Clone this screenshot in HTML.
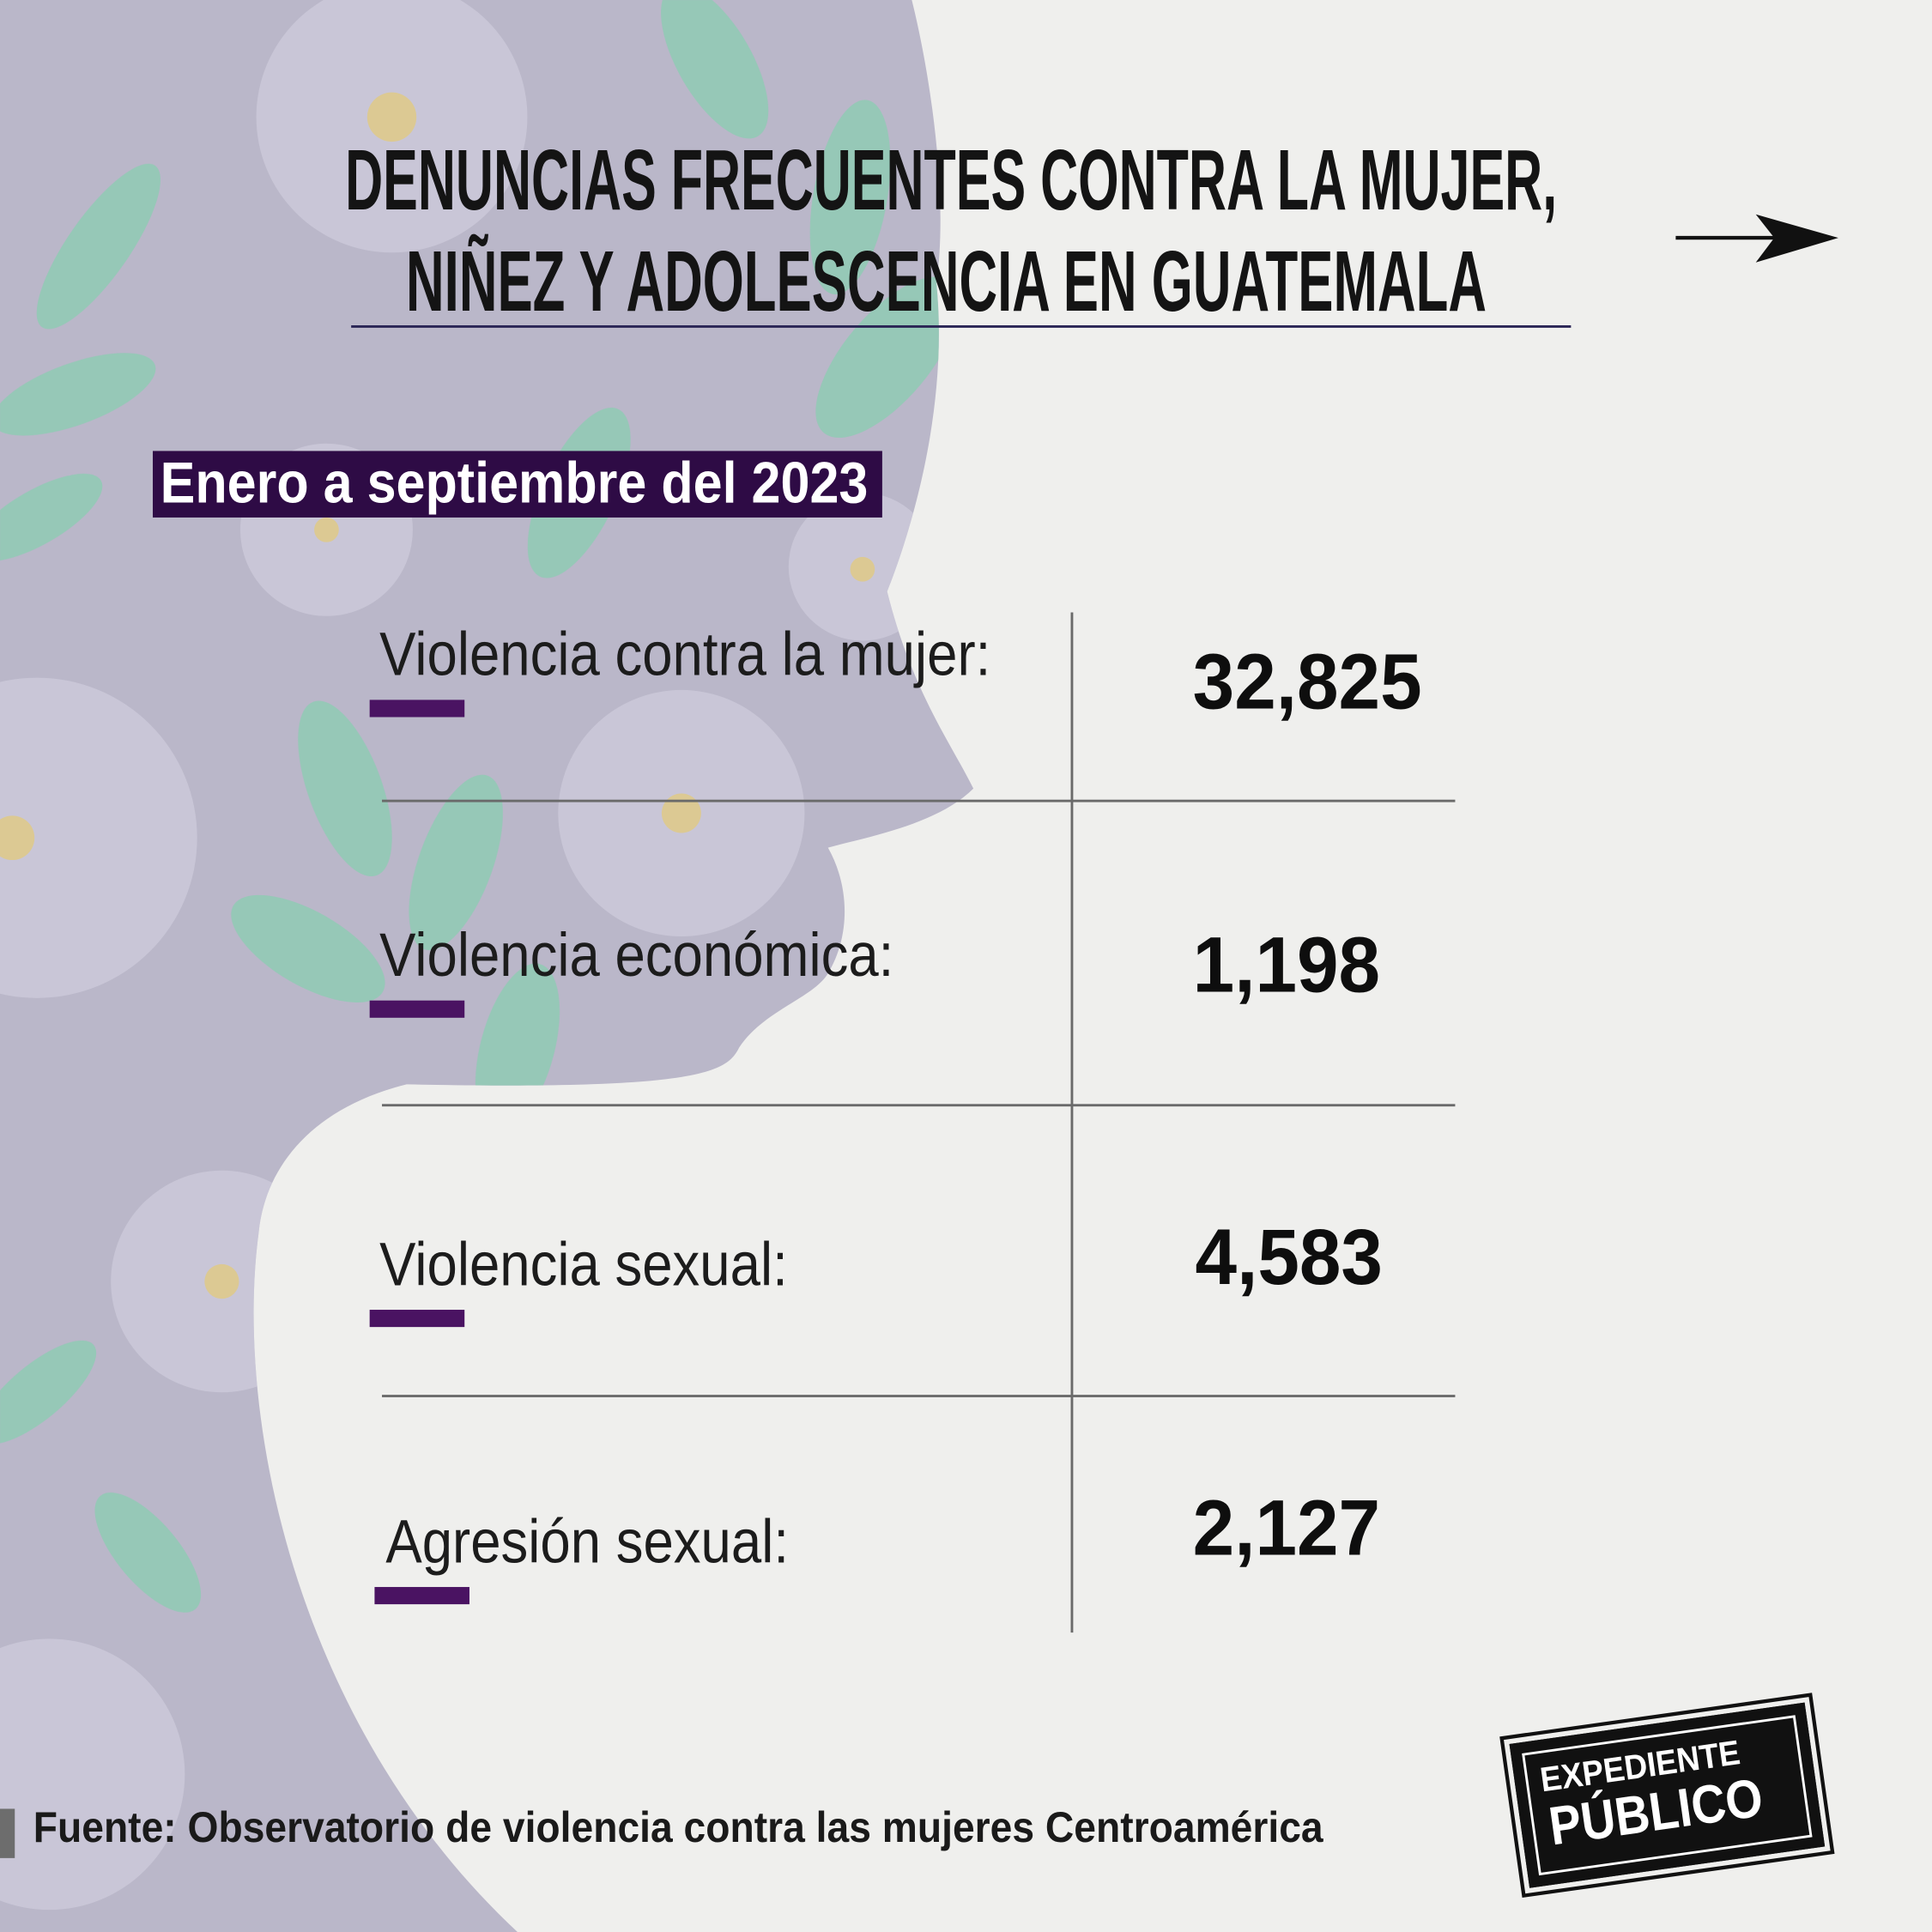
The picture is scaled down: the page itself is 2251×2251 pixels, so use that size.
<!DOCTYPE html>
<html><head><meta charset="utf-8"><style>
html,body{margin:0;padding:0;width:2251px;height:2250px;overflow:hidden;background:#efefed}
#w{position:absolute;left:0;top:0;width:1568px;height:1568px;transform:scale(1.43559);transform-origin:0 0;font-family:"Liberation Sans",sans-serif}
.t{position:absolute;white-space:nowrap;transform-origin:0 0}
.title{font-family:"Liberation Sans Narrow","Liberation Sans",sans-serif;font-weight:bold;font-size:70px;color:#141414;left:-20px;width:1568px;text-align:center;transform-origin:784px 0}
.lab{font-family:"Liberation Sans Narrow","Liberation Sans",sans-serif;font-size:50px;color:#1c1c1c;font-weight:normal;transform:scaleX(0.885)}
.bar{position:absolute;width:77px;height:14px;background:#4a1362}
.num{font-family:"Liberation Sans Narrow","Liberation Sans",sans-serif;font-weight:bold;font-size:64px;color:#0e0e0e;transform:scaleX(0.95)}
.hl{position:absolute;left:310px;width:871px;height:2px;background:#6a6a6a}
</style></head><body><div id="w">
<svg width="1568" height="1568" style="position:absolute;left:0;top:0">
<defs><clipPath id="c"><path d="M0 0 L740 0 C755 60 770 160 760 230 C770 330 740 430 720 480 C740 560 770 600 790 640 C760 670 700 680 672 688 C690 720 690 760 672 790 C660 810 620 820 600 850 C590 870 570 885 330 880 C250 900 215 950 210 1000 C190 1150 240 1400 420 1568 L0 1568 Z"/></clipPath></defs>
<path d="M0 0 L740 0 C755 60 770 160 760 230 C770 330 740 430 720 480 C740 560 770 600 790 640 C760 670 700 680 672 688 C690 720 690 760 672 790 C660 810 620 820 600 850 C590 870 570 885 330 880 C250 900 215 950 210 1000 C190 1150 240 1400 420 1568 L0 1568 Z" fill="#bab7c9"/>
<g clip-path="url(#c)">
<g fill="#8fcbb4" opacity="0.85">
<ellipse cx="580" cy="50" rx="30" ry="70" transform="rotate(-30 580 50)"/>
<ellipse cx="690" cy="160" rx="30" ry="80" transform="rotate(10 690 160)"/>
<ellipse cx="720" cy="290" rx="35" ry="80" transform="rotate(40 720 290)"/>
<ellipse cx="470" cy="400" rx="30" ry="75" transform="rotate(25 470 400)"/>
<ellipse cx="80" cy="200" rx="25" ry="80" transform="rotate(35 80 200)"/>
<ellipse cx="60" cy="320" rx="25" ry="70" transform="rotate(70 60 320)"/>
<ellipse cx="30" cy="420" rx="22" ry="60" transform="rotate(60 30 420)"/>
<ellipse cx="280" cy="640" rx="30" ry="75" transform="rotate(-20 280 640)"/>
<ellipse cx="370" cy="700" rx="30" ry="75" transform="rotate(20 370 700)"/>
<ellipse cx="250" cy="770" rx="30" ry="70" transform="rotate(-60 250 770)"/>
<ellipse cx="420" cy="850" rx="30" ry="70" transform="rotate(15 420 850)"/>
<ellipse cx="30" cy="1130" rx="22" ry="60" transform="rotate(50 30 1130)"/>
<ellipse cx="120" cy="1260" rx="25" ry="60" transform="rotate(-40 120 1260)"/>
</g>
<g fill="#d6d4e1" opacity="0.55">
<circle cx="318" cy="95" r="110"/><circle cx="30" cy="680" r="130"/><circle cx="553" cy="660" r="100"/>
<circle cx="265" cy="430" r="70"/><circle cx="180" cy="1040" r="90"/><circle cx="40" cy="1440" r="110"/><circle cx="700" cy="460" r="60"/>
</g>
<g fill="#dcc993"><circle cx="318" cy="95" r="20"/><circle cx="10" cy="680" r="18"/><circle cx="553" cy="660" r="16"/><circle cx="265" cy="430" r="10"/><circle cx="180" cy="1040" r="14"/><circle cx="700" cy="462" r="10"/></g>
</g>
<line x1="285" y1="265" x2="1275" y2="265" stroke="#2a2555" stroke-width="2"/>
<line x1="1360" y1="193" x2="1470" y2="193" stroke="#111" stroke-width="3"/>
<path d="M1425 174 L1492 193 L1425 213 L1440 193 Z" fill="#111"/>
<line x1="870" y1="497" x2="870" y2="1325" stroke="#6a6a6a" stroke-width="2"/>
</svg>
<div class="t title" style="top:106px;left:-28px;transform:scaleX(0.607)">DENUNCIAS FRECUENTES CONTRA LA MUJER,</div>
<div class="t title" style="top:188px;left:-16px;transform:scaleX(0.615)">NIÑEZ Y ADOLESCENCIA EN GUATEMALA</div>
<div class="t" style="left:124px;top:366px;width:592px;height:54px;background:#2e0b45"></div>
<div class="t" style="left:130px;top:364px;font-family:'Liberation Sans Narrow','Liberation Sans',sans-serif;font-weight:bold;font-size:47px;color:#fff;transform:scaleX(0.905)">Enero a septiembre del 2023</div>
<div class="hl" style="top:649px"></div><div class="hl" style="top:896px"></div><div class="hl" style="top:1132px"></div>
<div class="t lab" style="left:308px;top:502px">Violencia contra la mujer:</div>
<div class="bar" style="left:300px;top:568px"></div>
<div class="t lab" style="left:308px;top:746px">Violencia económica:</div>
<div class="bar" style="left:300px;top:812px"></div>
<div class="t lab" style="left:308px;top:997px">Violencia sexual:</div>
<div class="bar" style="left:300px;top:1063px"></div>
<div class="t lab" style="left:313px;top:1222px">Agresión sexual:</div>
<div class="bar" style="left:304px;top:1288px"></div>
<div class="t num" style="left:968px;top:516px">32,825</div>
<div class="t num" style="left:968px;top:746px">1,198</div>
<div class="t num" style="left:970px;top:983px">4,583</div>
<div class="t num" style="left:968px;top:1203px">2,127</div>
<div class="t" style="left:0;top:1468px;width:12px;height:40px;background:#6d6d6d"></div>
<div class="t" style="left:27px;top:1464px;font-family:'Liberation Sans Narrow','Liberation Sans',sans-serif;font-weight:bold;font-size:35px;color:#1a1a1a;transform:scaleX(0.92)">Fuente: Observatorio de violencia contra las mujeres Centroamérica</div>
<div class="t" style="left:1232px;top:1398px;width:236px;height:112px;background:#111;transform:rotate(-8deg);transform-origin:50% 50%;border:3px solid #111;outline:3px solid #111;outline-offset:4px">
<div style="position:absolute;left:6px;top:6px;right:6px;bottom:6px;border:2px solid #fff"></div>
<div style="position:absolute;left:18px;top:14px;color:#fff;font-weight:bold;font-size:28px;transform:scaleX(0.92);transform-origin:0 0">EXPEDIENTE</div>
<div style="position:absolute;left:20px;top:44px;color:#fff;font-weight:bold;font-size:44px;transform:scaleX(0.88);transform-origin:0 0">PÚBLICO</div>
</div>
</div></body></html>
